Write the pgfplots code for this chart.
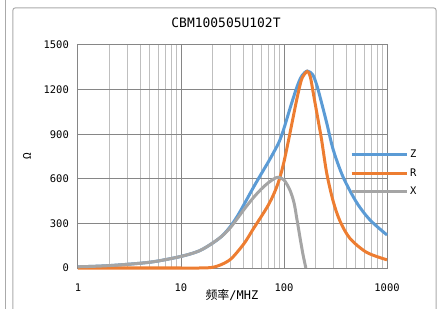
\documentclass[border=0pt]{standalone}
\usepackage{fontspec}
\setmainfont{DejaVu Sans Mono}
\newfontfamily\cjk{Noto Sans CJK SC}
\usepackage{pgfplots}
\pgfplotsset{compat=1.18}
\definecolor{zblue}{RGB}{91,155,213}
\definecolor{rorange}{RGB}{237,125,49}
\definecolor{xgray}{RGB}{165,165,165}
\definecolor{gmaj}{RGB}{134,134,134}
\definecolor{gmin}{RGB}{191,191,191}
\definecolor{framec}{RGB}{170,170,170}
\begin{document}
\begin{tikzpicture}
\path[use as bounding box] (-78bp,-41bp) rectangle (365bp,268bp);
\draw[framec, line width=1bp, rounded corners=2bp] (-65bp,-60bp) rectangle (358bp,260bp);
\draw[framec, line width=1bp] (-72bp,-60bp) -- (-72bp,270bp);
\begin{axis}[
  at={(0,0)}, anchor=south west,
  scale only axis, width=309bp, height=223bp,
  xmode=log, log basis x=10,
  xmin=1, xmax=1000, ymin=0, ymax=1500,
  xtick={1,10,100,1000}, xticklabels={1,10,100,1000},
  minor xtick={2,3,...,9,20,30,...,90,200,300,...,900},
  ytick={0,300,600,900,1200,1500}, yticklabels={0,300,600,900,1200,1500},
  grid=both,
  major grid style={gmaj, line width=1bp},
  minor grid style={gmin, line width=1bp},
  axis line style={gmaj, line width=1bp},
  tick style={draw=none},
  clip=false,
  ticklabel style={font=\fontsize{10.5}{12}\selectfont},
  yticklabel style={anchor=east, inner sep=0pt, xshift=-9bp},
  xticklabel style={anchor=base, inner sep=0pt, yshift=-23bp},
  title={CBM100505U102T},
  title style={font=\fontsize{13}{15}\selectfont, at={(0.479,1)}, anchor=base, yshift=12bp},
  xlabel={{\cjk 频率}/MHZ},
  xlabel style={font=\fontsize{12}{14}\selectfont, at={(0.498,0)}, anchor=base, yshift=-31bp},
  ylabel={Ω},
  ylabel style={font=\fontsize{11}{13}\selectfont, at={(0,0.5)}, anchor=center, yshift=51bp},
  legend style={at={(0.88,0.426)}, anchor=west, draw=none, fill=none,
    font=\fontsize{10.5}{12}\selectfont, row sep=5bp, inner sep=0pt,
    /tikz/every even column/.append style={column sep=4bp}},
  legend cell align=left,
  legend image code/.code={\draw[#1] (0bp,0bp) -- (55bp,0bp);},
]
\addplot[zblue, line width=3bp, smooth] coordinates {
(1,8) (2,16) (5,39) (10,78) (15,115) (20,165) (25,215) (30,277) (35,345) (40,415) (50,537) (60,632) (70,710) (80,782) (90,851) (100,940) (114,1070) (128,1180) (140,1255) (150,1295) (168,1325) (190,1300) (207,1235) (224,1150) (260,975) (301,794) (376,610) (508,440) (684,323) (1000,222)};
\addlegendentry{Z}
\addplot[rorange, line width=3bp, smooth] coordinates {
(1,0) (10,0) (15,0) (20,4) (25,25) (31,65) (41,165) (50,260) (60,345) (70,420) (80,501) (90,595) (100,715) (114,903) (128,1078) (140,1203) (150,1278) (168,1322) (180,1287) (193,1172) (215,990) (232,860) (260,637) (301,446) (350,315) (437,199) (635,105) (1000,55)};
\addlegendentry{R}
\addplot[xgray, line width=3bp, smooth] coordinates {
(1,8) (2,16) (5,39) (10,78) (15,115) (20,165) (25,215) (30,270) (35,330) (40,385) (50,470) (60,530) (70,572) (80,600) (88,610) (100,592) (114,525) (125,440) (133,335) (143,205) (153,90) (163,0)};
\addlegendentry{X}
\end{axis}
\end{tikzpicture}
\end{document}
